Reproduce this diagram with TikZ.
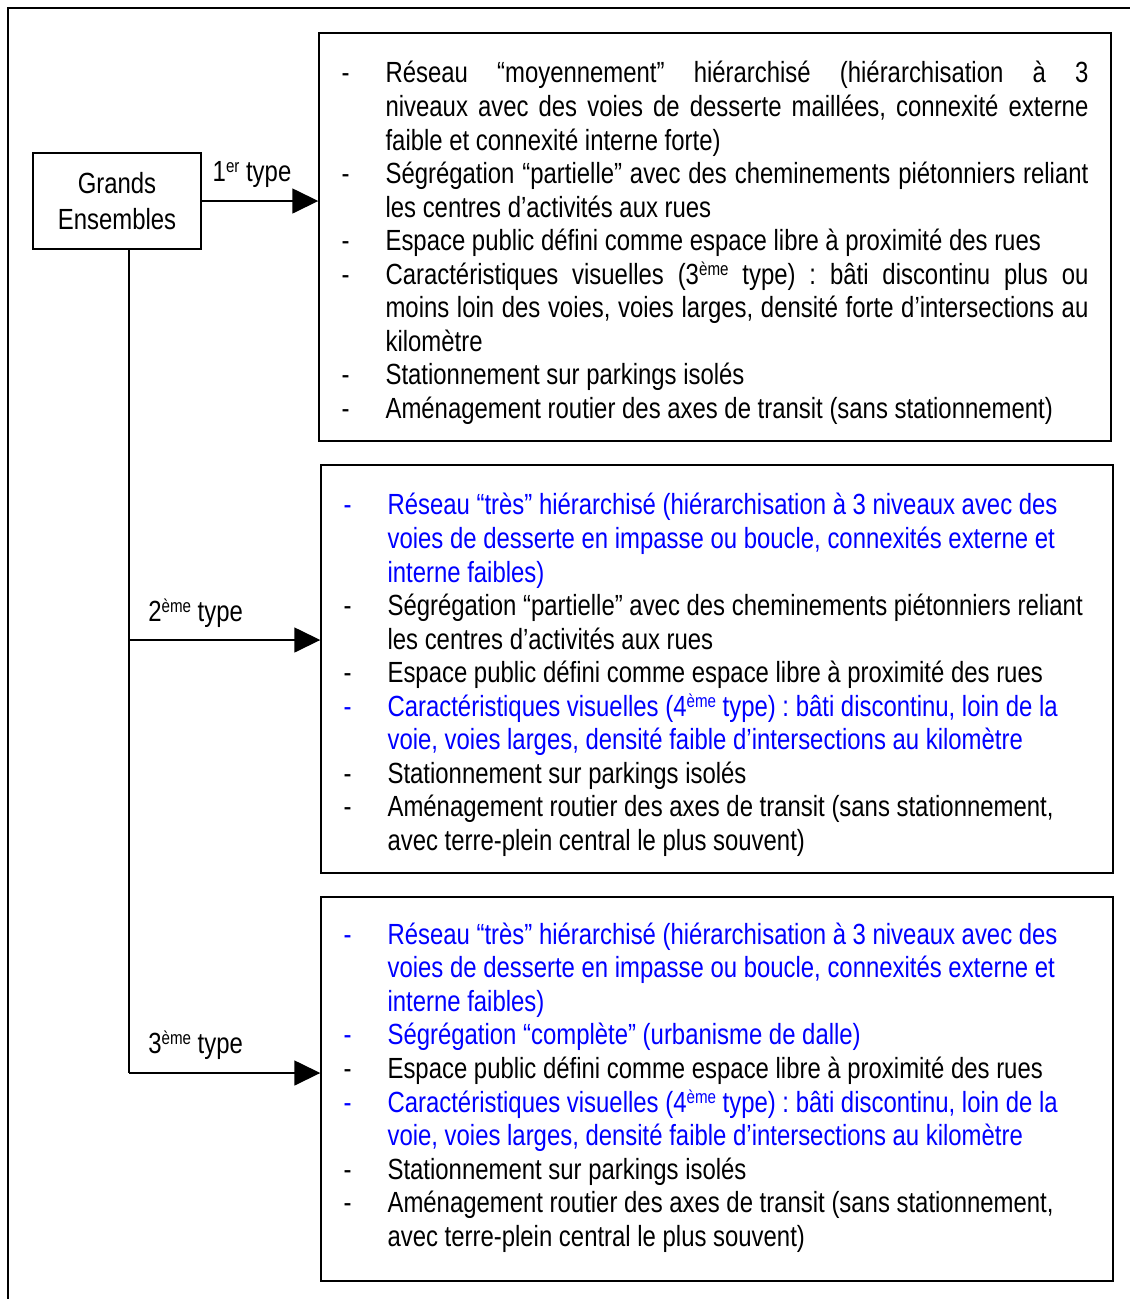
\documentclass[tikz,border=0pt]{standalone}
\usepackage{fontspec}
\setmainfont{Liberation Sans}[FakeStretch=0.82]
\usetikzlibrary{arrows.meta}
\frenchspacing
\hyphenpenalty=10000

% one dash-item of a list, with hanging indent
\newcommand{\tiret}[1]{\par\noindent\hangindent=0.88cm\hangafter=1\makebox[0.88cm][l]{-}#1\par}
\newcommand{\tiretbleu}[1]{\par\noindent\hangindent=0.88cm\hangafter=1{\color{blue}\makebox[0.88cm][l]{-}#1}\par}
\newcommand{\expo}[1]{\raisebox{0.55ex}{\fontsize{10.5}{10}\selectfont #1}}
\newcommand{\eme}{\expo{ème}}
\newcommand{\alaligne}{\hfil\break}

\begin{document}
\begin{tikzpicture}[x=0.02cm, y=-0.02cm,
    font=\fontsize{16.6}{19.1}\selectfont,
    typebox/.style={draw, line width=0.9pt, minimum width=15.84cm, text width=14.94cm, align=justify},
    fleche/.style={line width=0.9pt, -{Triangle[length=0.52cm, width=0.5cm]}}]
  \useasboundingbox (0,0) rectangle (1130,1299);
  \draw[line width=0.6pt] (8,1299) -- (8,8) -- (1130,8);

  \node[draw, line width=0.9pt, minimum width=3.36cm, minimum height=1.92cm, align=center]
    (ge) at (117,201) {Grands\\[1.5pt]Ensembles};

  \node[typebox, minimum height=8.16cm] (b1) at (715,237) {%
    \tiret{Réseau “moyennement” hiérarchisé (hiérarchisation à 3\linebreak
      niveaux avec des voies de desserte maillées, connexité externe\linebreak
      faible et connexité interne forte)}
    \tiret{Ségrégation “partielle” avec des cheminements piétonniers reliant\linebreak
      les centres d’activités aux rues}
    \tiret{Espace public défini comme espace libre à proximité des rues}
    \tiret{Caractéristiques visuelles (3\eme{} type)~: bâti discontinu plus ou\linebreak
      moins loin des voies, voies larges, densité forte d’intersections au\linebreak
      kilomètre}
    \tiret{Stationnement sur parkings isolés}
    \tiret{Aménagement routier des axes de transit (sans stationnement)}};

  \node[typebox, minimum height=8.16cm] (b2) at (717,669) {%
    \tiretbleu{Réseau “très” hiérarchisé (hiérarchisation à 3 niveaux avec des\alaligne
      voies de desserte en impasse ou boucle, connexités externe et\alaligne
      interne faibles)}
    \tiret{Ségrégation “partielle” avec des cheminements piétonniers reliant\alaligne
      les centres d’activités aux rues}
    \tiret{Espace public défini comme espace libre à proximité des rues}
    \tiretbleu{Caractéristiques visuelles (4\eme{} type)~: bâti discontinu, loin de la\alaligne
      voie, voies larges, densité faible d’intersections au kilomètre}
    \tiret{Stationnement sur parkings isolés}
    \tiret{Aménagement routier des axes de transit (sans stationnement,\alaligne
      avec terre-plein central le plus souvent)}};

  \node[typebox, minimum height=7.68cm] (b3) at (717,1089) {%
    \tiretbleu{Réseau “très” hiérarchisé (hiérarchisation à 3 niveaux avec des\alaligne
      voies de desserte en impasse ou boucle, connexités externe et\alaligne
      interne faibles)}
    \tiretbleu{Ségrégation “complète” (urbanisme de dalle)}
    \tiret{Espace public défini comme espace libre à proximité des rues}
    \tiretbleu{Caractéristiques visuelles (4\eme{} type)~: bâti discontinu, loin de la\alaligne
      voie, voies larges, densité faible d’intersections au kilomètre}
    \tiret{Stationnement sur parkings isolés}
    \tiret{Aménagement routier des axes de transit (sans stationnement,\alaligne
      avec terre-plein central le plus souvent)}
    \kern0.3cm};

  % branches
  \coordinate (t2) at (129,640);
  \coordinate (t3) at (129,1073);
  \draw[line width=0.9pt] (ge.south -| t3) -- (t3);
  \draw[fleche] (ge.east) -- (ge.east -| b1.west);
  \draw[fleche] (t2) -- (t2 -| b2.west);
  \draw[fleche] (t3) -- (t3 -| b3.west);

  \node (l1) at (252,174) {1\expo{er} type};
  \node[anchor=west, inner sep=0pt] (l2) at (148,613) {2\eme{} type};
  \node[anchor=west, inner sep=0pt] (l3) at (148,1045) {3\eme{} type};
\end{tikzpicture}
\end{document}
